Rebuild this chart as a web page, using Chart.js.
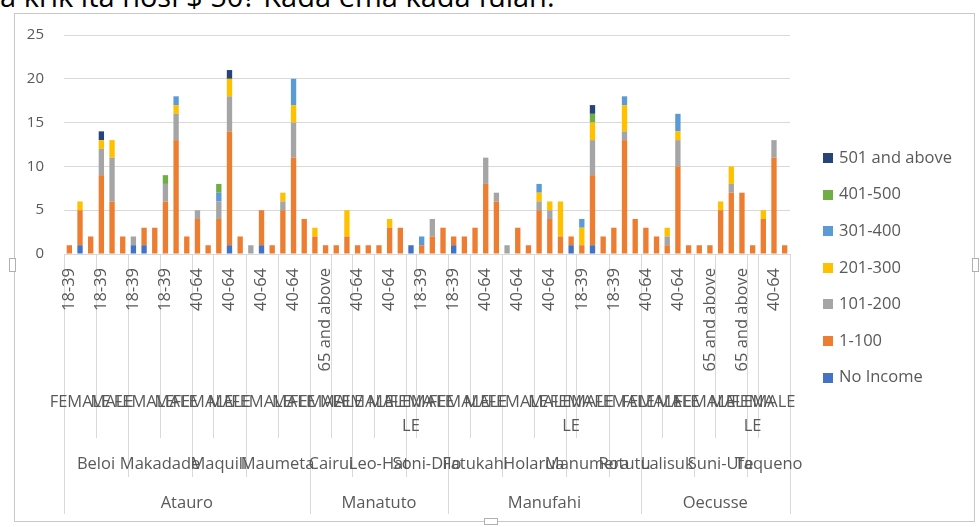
<!DOCTYPE html>
<html>
<head>
<meta charset="utf-8">
<script src="https://cdn.jsdelivr.net/npm/chart.js@4/dist/chart.umd.min.js"></script>
<style>
  html, body { margin: 0; padding: 0; background: #fff; overflow: hidden; }
  #wrap { position: relative; width: 980px; height: 527px; }
  #topText { position: absolute; left: 0; top: -19px; font-family: "Open Sans", sans-serif; font-size: 29px; line-height: 30px; color: #000; white-space: nowrap; }
  #frame { position: absolute; left: 14px; top: 13px; width: 961px; height: 509px; border: 1px solid #C8C8C8; box-sizing: border-box; background: #fff; }
  .handle { position: absolute; background: #fff; border: 1px solid #B0B0B0; box-sizing: border-box; }
  canvas { position: absolute; left: 0; top: 0; }
</style>
</head>
<body>
<div id="wrap">
  <div id="topText">a krik ita nosi $ 50? Kada ema kada fulan.</div>
  <div id="frame"></div>
  <div class="handle" style="left:9px;top:258px;width:7px;height:14px;"></div>
  <div class="handle" style="left:972px;top:258px;width:7px;height:14px;"></div>
  <div class="handle" style="left:484px;top:518px;width:14px;height:7px;"></div>
  <canvas id="c" width="980" height="527"></canvas>
</div>
<script>
// ---- Category levels (one entry per bar) ----
const ageLabels = [
  "18-39","40-64","65 and above", "18-39","40-64","65 and above",
  "18-39","40-64","65 and above", "18-39","40-64","65 and above",
  "40-64","65 and above", "18-39","40-64","65 and above",
  "18-39","40-64","65 and above", "18-39","40-64","65 and above",
  "40-64","65 and above", "40-64","65 and above",
  "40-64","65 and above", "18-39","40-64","65 and above",
  "40-64", "18-39","40-64","65 and above",
  "18-39","40-64", "18-39","40-64","65 and above",
  "18-39","40-64","65 and above", "18-39","40-64","65 and above",
  "40-64", "18-39","40-64","65 and above",
  "18-39","40-64","65 and above",
  "40-64","65 and above", "18-39","40-64","65 and above",
  "40-64","65 and above", "18-39","40-64","65 and above",
  "40-64", "18-39","40-64","65 and above"
];
const sexLabels = [
  "FEMALE","FEMALE","FEMALE", "MALE","MALE","MALE",
  "FEMALE","FEMALE","FEMALE", "MALE","MALE","MALE",
  "FEMALE","FEMALE", "MALE","MALE","MALE",
  "FEMALE","FEMALE","FEMALE", "MALE","MALE","MALE",
  "FEMALE","FEMALE", "MALE","MALE",
  "FEMALE","FEMALE", "MALE","MALE","MALE",
  "FEMALE", "MALE","MALE","MALE",
  "FEMALE","FEMALE", "MALE","MALE","MALE",
  "FEMALE","FEMALE","FEMALE", "MALE","MALE","MALE",
  "FEMALE", "MALE","MALE","MALE",
  "FEMALE","FEMALE","FEMALE",
  "FEMALE","FEMALE", "MALE","MALE","MALE",
  "FEMALE","FEMALE", "MALE","MALE","MALE",
  "FEMALE", "MALE","MALE","MALE"
];
const villageLabels = [
  "Beloi","Beloi","Beloi","Beloi","Beloi","Beloi",
  "Makadade","Makadade","Makadade","Makadade","Makadade","Makadade",
  "Maquili","Maquili","Maquili","Maquili","Maquili",
  "Maumeta","Maumeta","Maumeta","Maumeta","Maumeta","Maumeta",
  "Cairui","Cairui","Cairui","Cairui",
  "Leo-Hat","Leo-Hat","Leo-Hat","Leo-Hat","Leo-Hat",
  "Soni-Dilo","Soni-Dilo","Soni-Dilo","Soni-Dilo",
  "Fatukahi","Fatukahi","Fatukahi","Fatukahi","Fatukahi",
  "Holarua","Holarua","Holarua","Holarua","Holarua","Holarua",
  "Manumera","Manumera","Manumera","Manumera",
  "Rotutu","Rotutu","Rotutu",
  "Lalisuk","Lalisuk","Lalisuk","Lalisuk","Lalisuk",
  "Suni-Ufe","Suni-Ufe","Suni-Ufe","Suni-Ufe","Suni-Ufe",
  "Taqueno","Taqueno","Taqueno","Taqueno"
];
const districtLabels = [
  ...Array(23).fill("Atauro"),
  ...Array(13).fill("Manatuto"),
  ...Array(18).fill("Manufahi"),
  ...Array(14).fill("Oecusse")
];

// ---- Series values (count of respondents per income band) ----
const noIncome = [0,1,0,0,0,0,1,1,0,0, 0,0,0,0,0,1,0,0,1,0, 0,0,0,0,0,0,0,0,0,0, 0,0,1,0,0,0,1,0,0,0, 0,0,0,0,0,0,0,1,0,1, 0,0,0,0,0,0,0,0,0,0, 0,0,0,0,0,0,0,0];
const inc1_100 = [1,4,2,9,6,2,0,2,3,6, 13,2,4,1,4,13,2,0,4,1, 5,11,4,2,1,1,2,1,1,1, 3,3,0,1,2,3,1,2,3,8, 6,0,3,1,5,4,2,1,1,8, 2,3,13,4,3,2,1,10,1,1, 1,5,7,7,1,4,11,1];
const inc101_200 = [0,0,0,3,5,0,1,0,0,2, 3,0,1,0,2,4,0,1,0,0, 1,4,0,0,0,0,0,0,0,0, 0,0,0,0,2,0,0,0,0,3, 1,1,0,0,1,1,0,0,0,4, 0,0,1,0,0,0,1,3,0,0, 0,0,1,0,0,0,2,0];
const inc201_300 = [0,1,0,1,2,0,0,0,0,0, 1,0,0,0,0,2,0,0,0,0, 1,2,0,1,0,0,3,0,0,0, 1,0,0,0,0,0,0,0,0,0, 0,0,0,0,1,1,4,0,2,2, 0,0,3,0,0,0,1,1,0,0, 0,1,2,0,0,1,0,0];
const inc301_400 = [0,0,0,0,0,0,0,0,0,0, 1,0,0,0,1,0,0,0,0,0, 0,3,0,0,0,0,0,0,0,0, 0,0,0,1,0,0,0,0,0,0, 0,0,0,0,1,0,0,0,1,0, 0,0,1,0,0,0,0,2,0,0, 0,0,0,0,0,0,0,0];
const inc401_500 = [0,0,0,0,0,0,0,0,0,1, 0,0,0,0,1,0,0,0,0,0, 0,0,0,0,0,0,0,0,0,0, 0,0,0,0,0,0,0,0,0,0, 0,0,0,0,0,0,0,0,0,1, 0,0,0,0,0,0,0,0,0,0, 0,0,0,0,0,0,0,0];
const inc501up = [0,0,0,1,0,0,0,0,0,0, 0,0,0,0,0,1,0,0,0,0, 0,0,0,0,0,0,0,0,0,0, 0,0,0,0,0,0,0,0,0,0, 0,0,0,0,0,0,0,0,0,1, 0,0,0,0,0,0,0,0,0,0, 0,0,0,0,0,0,0,0];

const seriesNames = ["No Income","1-100","101-200","201-300","301-400","401-500","501 and above"];
const seriesColors = ["#4472C4","#ED7D31","#A5A5A5","#FFC000","#5B9BD5","#70AD47","#264478"];
const seriesData = [noIncome, inc1_100, inc101_200, inc201_300, inc301_400, inc401_500, inc501up];
const yTicks = [0,5,10,15,20,25];

const FONT = '"Open Sans", sans-serif';
const TXT = '#595959';

function runs(keyFn) {
  const out = [];
  for (let i = 0; i < ageLabels.length; i++) {
    const k = keyFn(i);
    if (out.length && out[out.length-1].key === k) out[out.length-1].end = i;
    else out.push({key: k, start: i, end: i});
  }
  return out;
}

const levelPlugin = {
  id: 'levels',
  afterDraw(chart) {
    const {ctx} = chart;
    const x = chart.scales.x;
    const n = ageLabels.length;
    const edge = v => x.getPixelForValue(v);
    const axisY = chart.chartArea.bottom;
    ctx.save();
    ctx.strokeStyle = '#D9D9D9';
    ctx.lineWidth = 1;
    for (let i = 0; i <= n; i++) {
      let depth = null;
      if (i === 0 || i === n || districtLabels[i] !== districtLabels[i-1]) depth = 514;
      else if (villageLabels[i] !== villageLabels[i-1]) depth = 477;
      else if (sexLabels[i] !== sexLabels[i-1]) depth = 438;
      if (depth) {
        const xx = Math.round(edge(i - 0.5)) + 0.5;
        ctx.beginPath(); ctx.moveTo(xx, axisY); ctx.lineTo(xx, depth); ctx.stroke();
      }
    }
    ctx.fillStyle = TXT;
    ctx.font = '16.5px ' + FONT;
    ctx.textAlign = 'right';
    ctx.textBaseline = 'middle';
    for (let i = 0; i < n; i += 3) {
      ctx.save();
      ctx.translate(x.getPixelForValue(i), 268);
      ctx.rotate(-Math.PI / 2);
      ctx.fillText(ageLabels[i], 0, 0);
      ctx.restore();
    }
    ctx.textAlign = 'center';
    runs(i => districtLabels[i] + '|' + villageLabels[i] + '|' + sexLabels[i]).forEach(g => {
      const cx = (edge(g.start - 0.5) + edge(g.end + 0.5)) / 2;
      const lab = sexLabels[g.start];
      if (g.start === g.end) {
        ctx.fillText(lab.slice(0, lab.length - 2), cx, 402);
        ctx.fillText(lab.slice(-2), cx, 426);
      } else {
        ctx.fillText(lab, cx, 402);
      }
    });
    runs(i => districtLabels[i] + '|' + villageLabels[i]).forEach(g => {
      const cx = (edge(g.start - 0.5) + edge(g.end + 0.5)) / 2;
      ctx.fillText(villageLabels[g.start], cx, 464);
    });
    runs(i => districtLabels[i]).forEach(g => {
      const cx = (edge(g.start - 0.5) + edge(g.end + 0.5)) / 2;
      ctx.fillText(districtLabels[g.start], cx, 503);
    });
    ctx.restore();
  }
};

const legendPlugin = {
  id: 'sideLegend',
  afterDraw(chart) {
    const {ctx} = chart;
    ctx.save();
    ctx.font = '16.5px ' + FONT;
    ctx.textAlign = 'left';
    ctx.textBaseline = 'middle';
    const ds = chart.data.datasets;
    for (let k = ds.length - 1, row = 0; k >= 0; k--, row++) {
      const cy = 158 + row * 36.6;
      ctx.fillStyle = ds[k].backgroundColor;
      ctx.fillRect(823, Math.round(cy - 5), 10, 10);
      ctx.fillStyle = TXT;
      ctx.fillText(ds[k].label, 839, cy);
    }
    ctx.restore();
  }
};

new Chart(document.getElementById('c'), {
  type: 'bar',
  data: {
    labels: ageLabels,
    datasets: seriesNames.map((name, k) => ({
      label: name,
      data: seriesData[k],
      backgroundColor: seriesColors[k],
      borderWidth: 0,
      categoryPercentage: 1.0,
      barPercentage: 0.5
    }))
  },
  options: {
    responsive: false,
    animation: false,
    devicePixelRatio: 1,
    layout: { padding: { left: 14, right: 190, top: 35, bottom: 0 } },
    plugins: { legend: { display: false }, tooltip: { enabled: false } },
    scales: {
      x: {
        stacked: true,
        grid: { display: false, drawTicks: false },
        ticks: { display: false },
        border: { display: true, color: '#D9D9D9' },
        afterFit(s) { s.height = 273; }
      },
      y: {
        stacked: true,
        min: 0, max: 25,
        afterBuildTicks(s) { s.ticks = yTicks.map(v => ({ value: v })); },
        ticks: { padding: 20, color: TXT, font: { family: FONT, size: 15 } },
        grid: { color: '#D9D9D9', drawTicks: false },
        border: { display: false },
        afterFit(s) { s.width = 50; }
      }
    }
  },
  plugins: [levelPlugin, legendPlugin]
});
</script>
</body>
</html>
